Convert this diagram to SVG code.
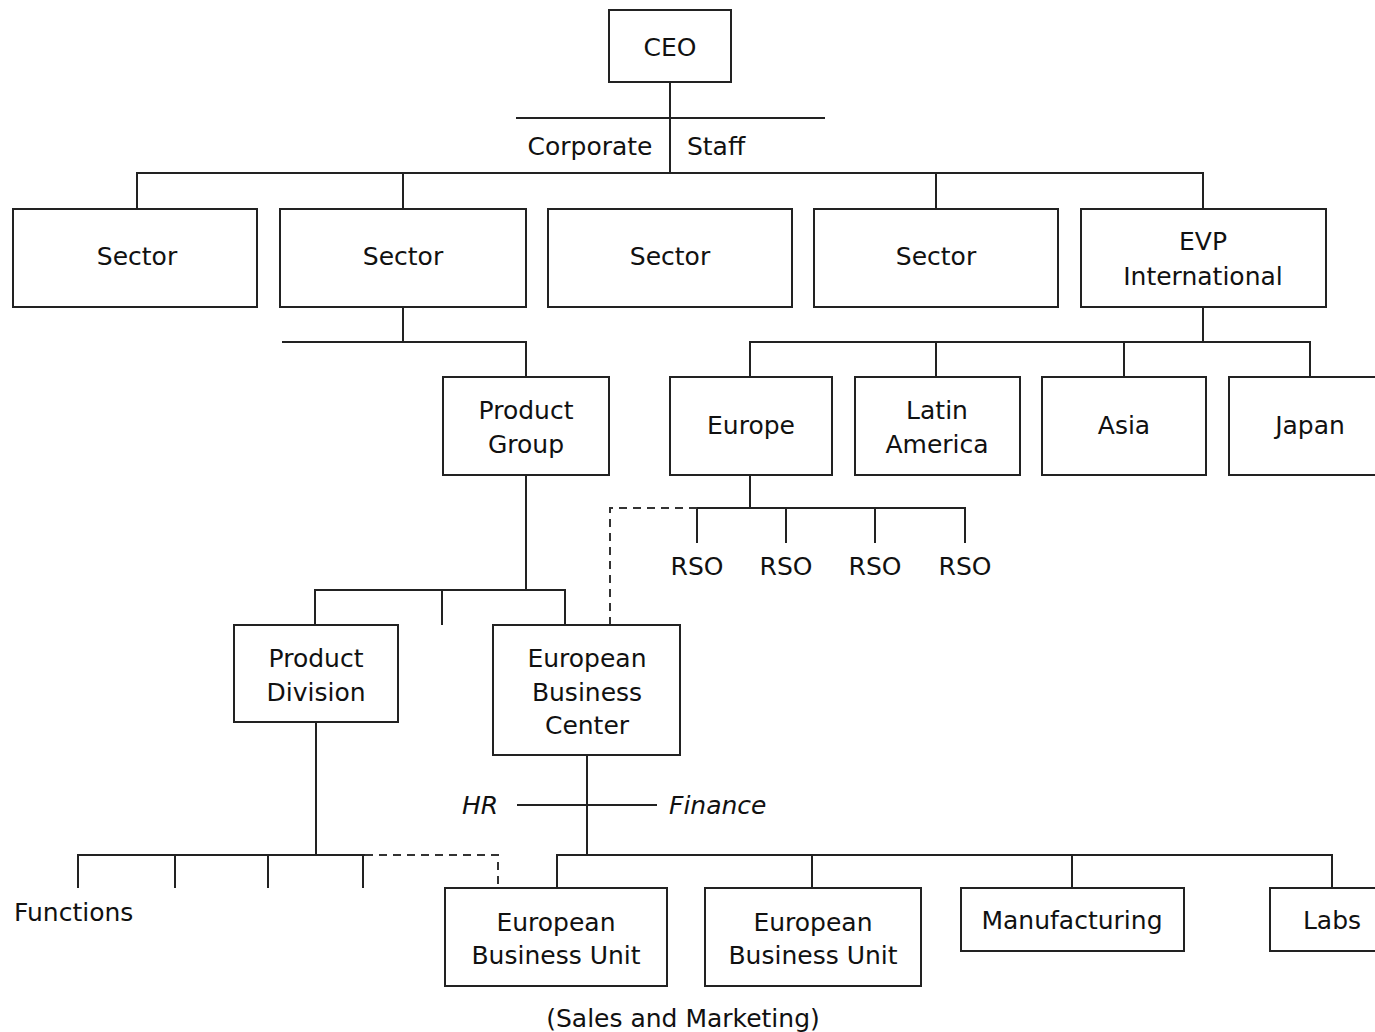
<svg xmlns="http://www.w3.org/2000/svg" width="1375" height="1032" viewBox="0 0 1375 1032">
<style>
.box{fill:#fff;stroke:#222;stroke-width:2}
.ln{fill:none;stroke:#222;stroke-width:2}
.ds{fill:none;stroke:#333;stroke-width:2;stroke-dasharray:8 6}
text{font-family:"DejaVu Sans","Liberation Sans",sans-serif;font-size:25px;fill:#111;text-anchor:middle}
.it{font-style:italic}
.st{text-anchor:start}
</style>
<rect width="1375" height="1032" fill="#fff"/>
<g id="connectors">
<path class="ln" d="M670 82V173M516 118H825M137 209V173H1203V209M403 173V209M936 173V209"/>
<path class="ln" d="M403 307V342M282 342H526V377"/>
<path class="ln" d="M526 475V590M315 625V590H565V625M442 590V625"/>
<path class="ln" d="M1203 307V342M750 377V342H1310V377M936 342V377M1124 342V377"/>
<path class="ln" d="M750 475V508M697 543V508H965V543M786 508V543M875 508V543"/>
<path class="ds" d="M610 625V508H697"/>
<path class="ln" d="M587 755V855M517 805H657M557 888V855H1332V888M812 855V888M1072 855V888"/>
<path class="ln" d="M316 722V855M78 888V855H365M175 855V888M268 855V888M363 855V888"/>
<path class="ds" d="M365 855H498V888"/>
</g>
<g id="ceo"><rect class="box" x="609" y="10" width="122" height="72"/><text x="670" y="56">CEO</text></g>
<g id="corporate-staff"><text x="590" y="155">Corporate</text><text x="716" y="155">Staff</text></g>
<g id="sector1"><rect class="box" x="13" y="209" width="244" height="98"/><text x="137" y="265">Sector</text></g>
<g id="sector2"><rect class="box" x="280" y="209" width="246" height="98"/><text x="403" y="265">Sector</text></g>
<g id="sector3"><rect class="box" x="548" y="209" width="244" height="98"/><text x="670" y="265">Sector</text></g>
<g id="sector4"><rect class="box" x="814" y="209" width="244" height="98"/><text x="936" y="265">Sector</text></g>
<g id="evp"><rect class="box" x="1081" y="209" width="245" height="98"/><text x="1203" y="250">EVP</text><text x="1203" y="285">International</text></g>
<g id="product-group"><rect class="box" x="443" y="377" width="166" height="98"/><text x="526" y="419">Product</text><text x="526" y="453">Group</text></g>
<g id="europe"><rect class="box" x="670" y="377" width="162" height="98"/><text x="751" y="434">Europe</text></g>
<g id="latin-america"><rect class="box" x="855" y="377" width="165" height="98"/><text x="937" y="419">Latin</text><text x="937" y="453">America</text></g>
<g id="asia"><rect class="box" x="1042" y="377" width="164" height="98"/><text x="1124" y="434">Asia</text></g>
<g id="japan"><rect class="box" x="1229" y="377" width="160" height="98"/><text x="1310" y="434">Japan</text></g>
<g id="rso"><text x="697" y="575">RSO</text><text x="786" y="575">RSO</text><text x="875" y="575">RSO</text><text x="965" y="575">RSO</text></g>
<g id="product-division"><rect class="box" x="234" y="625" width="164" height="97"/><text x="316" y="667">Product</text><text x="316" y="701">Division</text></g>
<g id="ebc"><rect class="box" x="493" y="625" width="187" height="130"/><text x="587" y="667">European</text><text x="587" y="701">Business</text><text x="587" y="734">Center</text></g>
<g id="hr-finance"><text class="it" x="480" y="814">HR</text><text class="it st" x="669" y="814">Finance</text></g>
<g id="functions"><text class="st" x="14" y="921">Functions</text></g>
<g id="ebu1"><rect class="box" x="445" y="888" width="222" height="98"/><text x="556" y="931">European</text><text x="556" y="964">Business Unit</text></g>
<g id="ebu2"><rect class="box" x="705" y="888" width="216" height="98"/><text x="813" y="931">European</text><text x="813" y="964">Business Unit</text></g>
<g id="manufacturing"><rect class="box" x="961" y="888" width="223" height="63"/><text x="1072" y="929">Manufacturing</text></g>
<g id="labs"><rect class="box" x="1270" y="888" width="120" height="63"/><text x="1332" y="929">Labs</text></g>
<g id="sales-marketing"><text x="683" y="1027">(Sales and Marketing)</text></g>
</svg>
